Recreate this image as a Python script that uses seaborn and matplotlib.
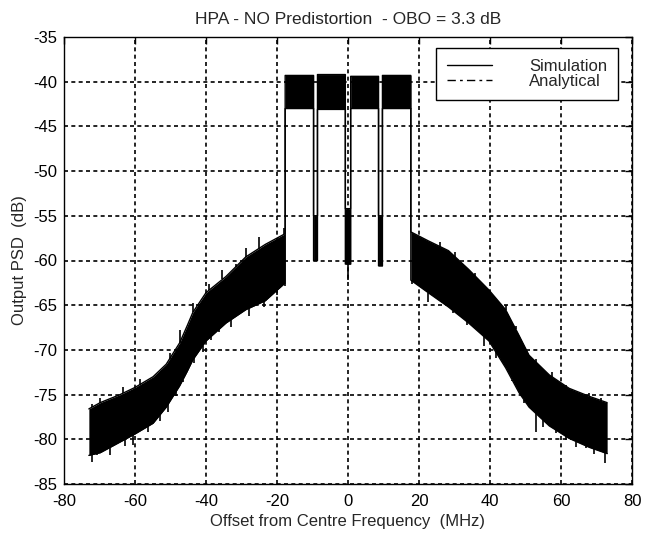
import numpy as np
import pandas as pd
import matplotlib
matplotlib.use("Agg")
import matplotlib.pyplot as plt
from matplotlib.lines import Line2D
import seaborn as sns

# ---------------- data ----------------
# out-of-band skirt, left side (MHz, dB): upper / lower edge of the dense noisy trace
left_freq = [-73.0, -69.8, -64.2, -60.0, -54.9, -51.2, -47.4, -45.3, -43.7, -40.0, -34.4, -28.8, -23.3, -17.7]
left_hi = [-76.6, -75.9, -75.0, -74.2, -73.0, -71.6, -69.2, -67.3, -65.8, -63.6, -61.8, -59.6, -58.2, -57.0]
left_lo = [-81.8, -81.5, -80.3, -79.4, -78.2, -76.4, -74.0, -72.4, -71.1, -69.0, -67.0, -65.5, -64.5, -62.5]

# out-of-band skirt, right side
right_freq = [17.7, 22.6, 28.3, 34.0, 39.7, 44.4, 48.2, 51.0, 56.7, 62.3, 68.0, 73.0]
right_hi = [-56.8, -57.8, -58.9, -61.0, -63.3, -65.5, -68.4, -70.6, -72.8, -74.3, -75.2, -75.9]
right_lo = [-62.2, -63.6, -65.2, -67.0, -69.0, -72.0, -74.8, -76.4, -78.5, -79.9, -80.9, -81.6]

# four carriers (start, stop in MHz) with their noise band
carrier_start = [-17.7, -8.6, 0.75, 9.7]
carrier_stop = [-9.7, -0.75, 8.6, 17.7]
carrier_top = [-39.3, -39.2, -39.4, -39.3]
carrier_floor = [-43.0, -43.1, -43.0, -43.0]

# intermodulation notches between carriers
notch_top = [-55.0, -54.2, -55.0]
notch_floor = [-60.0, -60.4, -60.6]

# visible downward spikes (MHz, tip dB)
down_freq = [-72.1, -70.7, -67.0, -62.8, -60.5, -56.3, -53.0, -50.7, -48.4, -46.5, -43.3, -40.9, -38.6, -36.3,
             -33.0, -27.9, -23.7, -20.0, -17.7, 0.0,
             17.9, 22.6, 26.4, 29.7, 33.5, 38.2, 41.6, 46.3, 49.6, 52.9, 54.8, 58.6, 61.4, 64.3, 67.1, 69.4, 72.3]
down_tip = [-82.5, -81.8, -81.8, -80.8, -80.6, -79.2, -78.0, -77.0, -75.2, -73.6, -71.5, -70.2, -68.9, -68.0,
            -67.4, -66.2, -65.2, -63.9, -62.8, -62.2,
            -62.6, -64.6, -64.4, -65.9, -67.2, -69.6, -70.9, -73.5, -75.9, -79.2, -78.6, -79.3, -80.1, -80.9, -81.0, -81.6, -82.7]

# visible upward spikes (MHz, tip dB)
up_freq = [-72.1, -69.8, -63.3, -58.6, -50.2, -47.4, -43.7, -39.1, -35.4, -31.6, -28.8, -25.1, -18.1,
           26.0, 30.2, 35.9, 44.4, 47.2, 52.9, 57.6, 61.4, 68.0, 71.3]
up_tip = [-76.0, -75.4, -74.2, -73.2, -70.3, -67.8, -64.8, -62.6, -61.1, -60.4, -58.6, -57.4, -56.4,
          -57.9, -59.0, -61.4, -65.0, -67.3, -71.0, -72.5, -73.9, -74.8, -75.4]

title = "HPA - NO Predistortion  - OBO = 3.3 dB"
xlabel = "Offset from Centre Frequency  (MHz)"
ylabel = "Output PSD  (dB)"
legend_labels = ["Simulation", "Analytical"]
xticks = [-80, -60, -40, -20, 0, 20, 40, 60, 80]
yticks = [-35, -40, -45, -50, -55, -60, -65, -70, -75, -80, -85]

# ---------------- build the trace envelope ----------------
fx, fhi, flo = list(left_freq), list(left_hi), list(left_lo)
for i in range(4):
    fx += [carrier_start[i], carrier_stop[i]]
    fhi += [carrier_top[i], carrier_top[i]]
    flo += [carrier_floor[i], carrier_floor[i]]
    if i < 3:
        fx += [carrier_stop[i], carrier_start[i + 1]]
        fhi += [notch_top[i], notch_top[i]]
        flo += [notch_floor[i], notch_floor[i]]
fx += right_freq
fhi += right_hi
flo += right_lo
df = pd.DataFrame({"freq": fx, "hi": fhi, "lo": flo})

# ---------------- figure ----------------
sns.set_style("white")
plt.rcParams["font.family"] = ["Liberation Sans", "DejaVu Sans"]
plt.rcParams["axes.unicode_minus"] = False

fig = plt.figure(figsize=(6.45, 5.35), dpi=100)
ax = fig.add_axes([64 / 645, 1 - 484 / 535, (632 - 64) / 645, (484 - 37) / 535])

ax.fill_between(df["freq"], df["lo"], df["hi"], color="black", linewidth=0)
sns.lineplot(data=df, x="freq", y="hi", ax=ax, color="black", linewidth=1.0, sort=False, estimator=None)
sns.lineplot(data=df, x="freq", y="lo", ax=ax, color="black", linewidth=1.0, sort=False, estimator=None)

# spikes of the noisy trace
down_base = [np.interp(f, left_freq + right_freq, left_lo + right_lo) if abs(f) > 1 else notch_floor[1]
             for f in down_freq]
up_base = [np.interp(f, left_freq + right_freq, left_hi + right_hi) for f in up_freq]
ax.vlines(down_freq, down_tip, down_base, color="black", linewidth=1.2)
ax.vlines(up_freq, up_base, up_tip, color="black", linewidth=1.2)

ax.set_xlim(-80, 80)
ax.set_ylim(-85, -35)
ax.set_xticks(xticks)
ax.set_yticks(yticks)
ax.grid(True, color="black", linestyle=(0, (2.4, 2.0)), linewidth=1.2)
ax.set_axisbelow(False)
for s in ax.spines.values():
    s.set_color("black")
    s.set_linewidth(1.0)
ax.tick_params(direction="in", top=True, right=True, length=5, width=1, labelsize=12, colors="black")
ax.tick_params(axis="y", pad=5)
ax.tick_params(axis="x", pad=7)
ax.set_title(title, fontsize=12.5, pad=9)
ax.set_xlabel(xlabel, fontsize=12, labelpad=4)
ax.set_ylabel(ylabel, fontsize=12, labelpad=4)

handles = [Line2D([], [], color="black", linewidth=1.0),
           Line2D([], [], color="black", linewidth=1.0, linestyle=(0, (6, 3, 2, 3)))]
leg = ax.legend(handles, legend_labels, loc="upper right", bbox_to_anchor=(1 - 14 / 568, 1 - 11 / 447),
                borderaxespad=0, fontsize=12, handlelength=2.75, handletextpad=2.2, borderpad=0.65,
                labelspacing=0.0, fancybox=False, framealpha=1, edgecolor="black")
leg.get_frame().set_linewidth(1.0)

fig.savefig("out.png", dpi=100)
